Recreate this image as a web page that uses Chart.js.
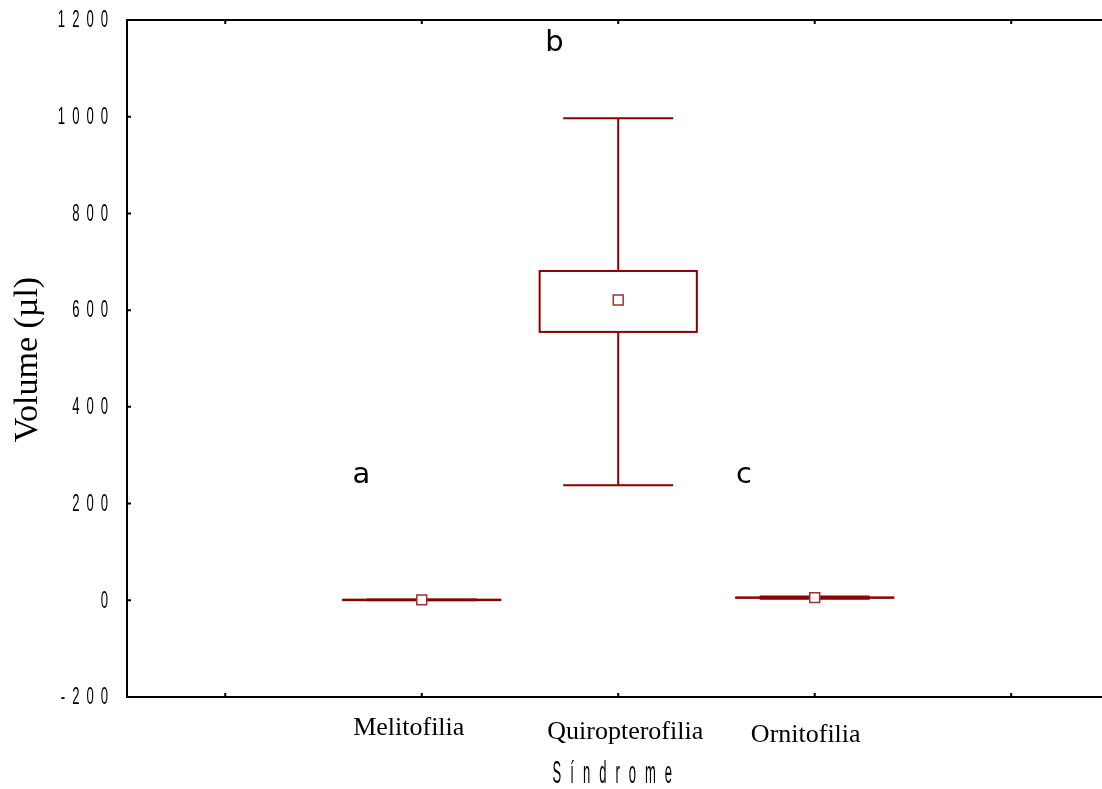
<!DOCTYPE html>
<html><head><meta charset="utf-8">
<script src="https://cdn.jsdelivr.net/npm/chart.js@4"></script>
<style>html,body{margin:0;padding:0;background:#fff;overflow:hidden}#wrap{width:1102px;height:789px;position:relative}</style>
</head><body><div id="wrap"><canvas id="c" width="1102" height="789"></canvas></div>
<script>
// ---- data ----
const categories = ['Melitofilia', 'Quiropterofilia', 'Ornitofilia'];
const categoryPos = [1, 2, 3];
const meanValues = [0.8, 621, 5.5];
const boxLow = [0.3, 555, 5];
const boxHigh = [1.3, 681, 6];
const whiskerLow = [0.1, 238, 3];
const whiskerHigh = [1.6, 997, 8];
const groupLetters = ['a', 'b', 'c'];
const xTickValues = [0, 1, 2, 3, 4];
const yAxisTitle = 'Volume (µl)';
const xAxisTitle = 'Síndrome';

const RED = '#8b0000';

function drawCondensed(ctx, text, x, y, size, sx, gap, align) {
  ctx.font = size + 'px "Liberation Sans", Arial, sans-serif';
  const chars = Array.from(text);
  const widths = chars.map(ch => ctx.measureText(ch).width * sx);
  const total = widths.reduce((a, b) => a + b, 0) + gap * (chars.length - 1);
  let cx = align === 'right' ? x - total : align === 'center' ? x - total / 2 : x;
  ctx.textAlign = 'left';
  chars.forEach((ch, i) => {
    ctx.save();
    ctx.translate(cx, y);
    ctx.scale(sx, 1);
    ctx.fillText(ch, 0, 0);
    ctx.restore();
    cx += widths[i] + gap;
  });
}

const boxPlugin = {
  id: 'boxPlugin',
  beforeDatasetsDraw(chart, args, opts) {
    const ctx = chart.ctx, xs = chart.scales.x, ys = chart.scales.y;
    ctx.save();
    ctx.strokeStyle = RED;
    ctx.lineWidth = 2;
    categoryPos.forEach((p, i) => {
      const xc = xs.getPixelForValue(p);
      const bx0 = xs.getPixelForValue(p - opts.boxHalf), bx1 = xs.getPixelForValue(p + opts.boxHalf);
      const cx0 = xs.getPixelForValue(p - opts.capHalf), cx1 = xs.getPixelForValue(p + opts.capHalf);
      const yWH = ys.getPixelForValue(whiskerHigh[i]), yWL = ys.getPixelForValue(whiskerLow[i]);
      const yBH = ys.getPixelForValue(boxHigh[i]), yBL = ys.getPixelForValue(boxLow[i]);
      ctx.beginPath();
      ctx.moveTo(xc, yWH); ctx.lineTo(xc, yBH);
      ctx.moveTo(xc, yBL); ctx.lineTo(xc, yWL);
      ctx.moveTo(cx0, yWH); ctx.lineTo(cx1, yWH);
      ctx.moveTo(cx0, yWL); ctx.lineTo(cx1, yWL);
      ctx.stroke();
      ctx.strokeRect(bx0, yBH, bx1 - bx0, yBL - yBH);
    });
    ctx.restore();
  },
  afterDraw(chart, args, opts) {
    const ctx = chart.ctx, xs = chart.scales.x, ys = chart.scales.y, ca = chart.chartArea;
    ctx.save();
    // inward tick marks
    ctx.strokeStyle = '#000';
    ctx.lineWidth = 2;
    ctx.beginPath();
    ys.ticks.forEach(t => {
      const y = ys.getPixelForValue(t.value);
      ctx.moveTo(ca.left, y); ctx.lineTo(ca.left + 4, y);
    });
    xTickValues.forEach(v => {
      const x = xs.getPixelForValue(v);
      ctx.moveTo(x, ca.bottom); ctx.lineTo(x, ca.bottom - 4);
      ctx.moveTo(x, ca.top); ctx.lineTo(x, ca.top + 4);
    });
    ctx.stroke();
    // y tick labels (condensed, spaced)
    ctx.fillStyle = '#000';
    ctx.textBaseline = 'middle';
    ys.ticks.forEach(t => {
      const y = ys.getPixelForValue(t.value);
      drawCondensed(ctx, String(t.value), ca.left - 19, y + 1, 23, 0.57, 7, 'right');
    });
    // x axis title (condensed, spaced)
    ctx.textBaseline = 'alphabetic';
    drawCondensed(ctx, xAxisTitle, xs.getPixelForValue(1.97), ca.bottom + 86, 31, 0.42, 9.0, 'center');
    // category labels
    ctx.font = '26px "Liberation Serif", "Times New Roman", serif';
    ctx.textAlign = 'center';
    categories.forEach((c, i) => {
      ctx.fillText(c, xs.getPixelForValue(categoryPos[i]) + opts.catDx[i], ca.bottom + opts.catDy[i]);
    });
    // group letters
    ctx.font = '29px "DejaVu Sans", sans-serif';
    groupLetters.forEach((l, i) => {
      ctx.fillText(l, xs.getPixelForValue(opts.letterX[i]), ys.getPixelForValue(opts.letterY[i]));
    });
    // y axis title
    ctx.font = '34px "Liberation Serif", "Times New Roman", serif';
    ctx.translate(37, (ca.top + ca.bottom) / 2 + 1);
    ctx.rotate(-Math.PI / 2);
    ctx.fillText(yAxisTitle, 0, 0);
    ctx.restore();
  }
};

const borderOpt = { display: true, color: '#000', width: 2 };
const gridOpt = { display: false, drawTicks: false, tickLength: 0 };

new Chart(document.getElementById('c'), {
  type: 'scatter',
  data: {
    datasets: [{
      data: categoryPos.map((x, i) => ({ x, y: meanValues[i] })),
      pointStyle: 'rect',
      pointRadius: 7,
      pointHoverRadius: 7,
      backgroundColor: '#ffffff',
      borderColor: '#a03030',
      borderWidth: 1.5,
      clip: false
    }]
  },
  plugins: [boxPlugin],
  options: {
    responsive: false,
    animation: false,
    devicePixelRatio: 1,
    layout: { padding: { left: 127, top: 20, right: 0, bottom: 92 }, autoPadding: false },
    plugins: {
      legend: { display: false },
      tooltip: { enabled: false },
      boxPlugin: {
        boxHalf: 0.4,
        capHalf: 0.28,
        catDx: [-13, 7, -9],
        catDy: [38, 42, 45],
        letterX: [0.693, 1.675, 2.64],
        letterY: [242, 1136, 242]
      }
    },
    scales: {
      x: { type: 'linear', position: 'bottom', min: -0.5, max: 4.462,
           grid: gridOpt, ticks: { display: false, padding: 0 }, border: borderOpt },
      x2: { type: 'linear', position: 'top', min: -0.5, max: 4.462,
           grid: gridOpt, ticks: { display: false, padding: 0 }, border: borderOpt },
      y: { type: 'linear', min: -200, max: 1200, ticks: { display: false, stepSize: 200, padding: 0 },
           grid: gridOpt, border: borderOpt }
    }
  }
});
</script>
</body></html>
